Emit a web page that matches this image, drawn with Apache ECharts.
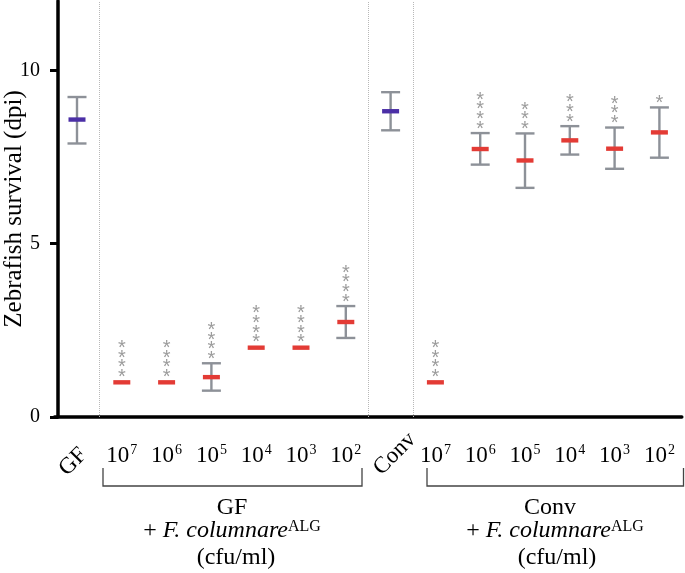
<!DOCTYPE html>
<html>
<head>
<meta charset="utf-8">
<style>
  html, body { margin: 0; padding: 0; background: #fff; }
  #main { width: 685px; height: 573px; }
</style>
<script src="https://cdn.jsdelivr.net/npm/echarts@6.0.0/dist/echarts.min.js"></script>
</head>
<body>
<div id="main"></div>
<script>
// categories along the x axis (controls + inoculum doses)
const categories = ['GF', '10^7', '10^6', '10^5', '10^4', '10^3', '10^2',
                    'Conv', '10^7', '10^6', '10^5', '10^4', '10^3', '10^2'];
const controls = ['GF', 'Conv'];
// survival (dpi)
const means = [8.58, 1.0, 1.0, 1.15, 2.0, 2.0, 2.74, 8.82, 1.0, 7.73, 7.40, 7.98, 7.74, 8.21];
const upper = [9.23, null, null, 1.55, null, null, 3.20, 9.37, null, 8.19, 8.18, 8.39, 8.35, 8.93];
const lower = [7.89, null, null, 0.76, null, null, 2.28, 8.27, null, 7.28, 6.61, 7.57, 7.16, 7.48];
// number of significance stars above each group
const stars = [0, 4, 4, 4, 4, 4, 4, 0, 4, 4, 3, 3, 3, 1];
const yTicks = [0, 5, 10];
const separators = [0.5, 6.5, 7.5];

const FONT = '"Liberation Serif", "Times New Roman", serif';
const RED = '#e33b35';
const PURPLE = '#4b2fa6';
const GREY = '#8d9198';

const chart = echarts.init(document.getElementById('main'));

function renderItem(params, api) {
    const i = params.dataIndex;
    const m = api.coord([i, means[i]]);
    const cx = m[0];
    const kids = [];
    let topY = m[1] - 2;
    if (upper[i] != null) {
        const hi = api.coord([i, upper[i]])[1];
        const lo = api.coord([i, lower[i]])[1];
        const st = { stroke: GREY, lineWidth: 2.4 };
        kids.push({ type: 'line', shape: { x1: cx, y1: hi, x2: cx, y2: lo }, style: st });
        kids.push({ type: 'line', shape: { x1: cx - 9.5, y1: hi, x2: cx + 9.5, y2: hi }, style: st });
        kids.push({ type: 'line', shape: { x1: cx - 9.5, y1: lo, x2: cx + 9.5, y2: lo }, style: st });
        topY = hi - 1;
    }
    const colour = controls.includes(categories[i]) ? PURPLE : RED;
    kids.push({
        type: 'rect',
        shape: { x: cx - 8.5, y: m[1] - 2.2, width: 17, height: 4.4 },
        style: { fill: colour }
    });
    if (stars[i] > 0) {
        kids.push({
            type: 'text',
            style: {
                text: new Array(stars[i]).fill('*').join('\n'),
                x: cx, y: topY + 2,
                align: 'center', verticalAlign: 'bottom',
                fontFamily: '"Liberation Sans", Arial, sans-serif',
                fontSize: 20, lineHeight: 9.7,
                fill: '#9c9c9c'
            }
        });
    }
    return { type: 'group', children: kids };
}

function powerLabel(v) {
    if (controls.includes(v)) return '';
    const p = v.split('^');
    return '{b|' + p[0] + '}{s|' + p[1] + '}';
}

const option = {
    animation: false,
    grid: { left: 54.6, right: 3.2, top: 1, bottom: 156, containLabel: false, outerBoundsMode: 'none' },
    xAxis: [
        {
            type: 'category',
            data: categories,
            axisLine: { onZero: false, lineStyle: { color: '#000', width: 3.5 } },
            axisTick: { alignWithLabel: true, length: 8, lineStyle: { color: '#000', width: 3 } },
            axisLabel: {
                interval: 0, margin: 39, verticalAlign: 'middle',
                formatter: powerLabel,
                rich: {
                    b: { fontFamily: FONT, fontSize: 23, color: '#000', lineHeight: 26 },
                    s: { fontFamily: FONT, fontSize: 14, color: '#000', lineHeight: 14,
                         verticalAlign: 'top', padding: [0, 0, 0, 1] }
                }
            },
            splitLine: { show: false }
        },
        {
            type: 'category',
            data: categories,
            position: 'bottom',
            axisLine: { show: false, onZero: false },
            axisTick: { show: false },
            axisLabel: {
                interval: 0, rotate: 45, margin: 41,
                align: 'center', verticalAlign: 'middle',
                formatter: v => v === 'GF' ? '{g|GF}' : (v === 'Conv' ? '{c|Conv}' : ''),
                rich: {
                    g: { fontFamily: FONT, fontSize: 23, color: '#000', padding: [0, 11, 0, 0] },
                    c: { fontFamily: FONT, fontSize: 23, color: '#000', padding: [0, 0, 0, 12] }
                }
            }
        },
        { type: 'value', min: -0.5, max: 13.5, show: false }
    ],
    yAxis: {
        type: 'value', min: 0, max: 12, offset: -3.4,
        axisLine: { show: true, onZero: false, lineStyle: { color: '#000', width: 3.5 } },
        axisTick: { show: true, length: 8, customValues: yTicks, lineStyle: { color: '#000', width: 3 } },
        axisLabel: { customValues: yTicks, fontFamily: FONT, fontSize: 20, color: '#000', margin: 18 },
        splitLine: { show: false },
        name: 'Zebrafish survival (dpi)',
        nameLocation: 'middle', nameGap: 31, nameMoveOverlap: false,
        nameTextStyle: { fontFamily: FONT, fontSize: 25, color: '#000' }
    },
    series: [
        {
            type: 'line', xAxisIndex: 2, data: [], silent: true,
            markLine: {
                silent: true, symbol: 'none', label: { show: false },
                lineStyle: { color: '#b8b8b8', type: 'dotted', width: 1 },
                data: separators.map(x => ({ xAxis: x }))
            }
        },
        {
            type: 'custom', xAxisIndex: 0,
            renderItem: renderItem,
            data: means.map((m, i) => [i, m])
        }
    ],
    graphic: [
        { type: 'polyline', shape: { points: [[103, 468], [103, 486], [362, 486], [362, 468]] },
          style: { stroke: '#444', lineWidth: 1.3, fill: null } },
        { type: 'polyline', shape: { points: [[427, 468], [427, 486], [683.5, 486], [683.5, 468]] },
          style: { stroke: '#444', lineWidth: 1.3, fill: null } }
    ]
};

const groupRich = {
    r: { fontFamily: FONT, fontSize: 24, fill: '#000' },
    i: { fontFamily: FONT, fontSize: 24, fontStyle: 'italic', fill: '#000' },
    s: { fontFamily: FONT, fontSize: 16, fill: '#000', verticalAlign: 'top', lineHeight: 16 }
};
function groupLabel(name, cx1, cx2, cx3) {
    return [
        { type: 'text', x: cx1, y: 507.5, style: { text: name, font: '24px ' + FONT, fill: '#000', align: 'center', verticalAlign: 'middle' } },
        { type: 'text', x: cx2, y: 531, style: { text: '{r|+ }{i|F. columnare}{s|ALG}', rich: groupRich, align: 'center', verticalAlign: 'middle' } },
        { type: 'text', x: cx3, y: 558, style: { text: '(cfu/ml)', font: '24px ' + FONT, fill: '#000', align: 'center', verticalAlign: 'middle' } }
    ];
}
option.graphic = option.graphic.concat(groupLabel('GF', 232, 232, 236), groupLabel('Conv', 550, 555, 557));

chart.setOption(option);
</script>
</body>
</html>
